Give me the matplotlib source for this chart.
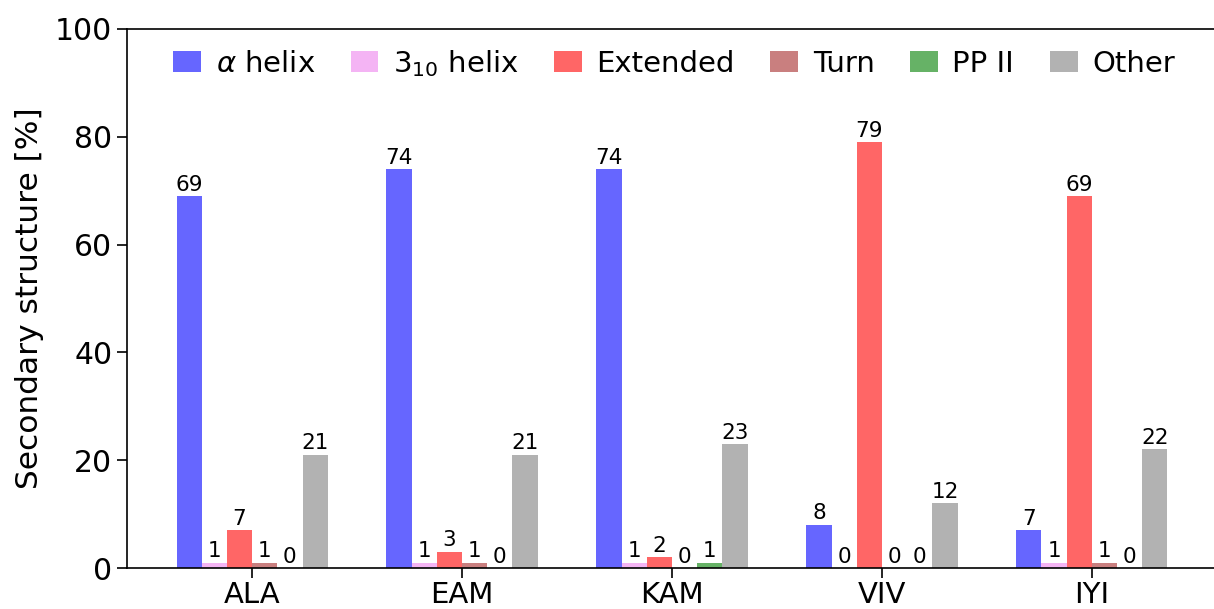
import numpy as np
import matplotlib
matplotlib.use("Agg")
import matplotlib.pyplot as plt

# peptides and secondary structure content (%)
peptides = ["ALA", "EAM", "KAM", "VIV", "IYI"]
labels = [r"$\alpha$ helix", r"3$_{10}$ helix", "Extended", "Turn", "PP II", "Other"]
colors = ["blue", "violet", "red", "brown", "green", "gray"]

alpha_helix = [69, 74, 74, 8, 7]
helix_310 = [1, 1, 1, 0, 1]
extended = [7, 3, 2, 79, 69]
turn = [1, 1, 0, 0, 1]
pp2 = [0, 0, 1, 0, 0]
other = [21, 21, 23, 12, 22]

series = [alpha_helix, helix_310, extended, turn, pp2, other]


def make_plot():
    fig = plt.figure(figsize=(12.14, 6.09), dpi=100)
    ax = fig.add_axes([127 / 1214, 41 / 609, 1090 / 1214, 539 / 609])

    x = np.arange(len(peptides))
    width = 0.12
    for i, (vals, lab, col) in enumerate(zip(series, labels, colors)):
        offset = (i - (len(series) - 1) / 2) * width
        bars = ax.bar(x + offset, vals, width, color=col, alpha=0.6, label=lab)
        ax.bar_label(bars, fontsize=15.5, padding=1)

    ax.set_ylim(0, 100)
    ax.set_xticks(x)
    ax.set_xticklabels(peptides, fontsize=21)
    ax.tick_params(axis="x", pad=2.5)
    ax.tick_params(axis="y", labelsize=21.5)
    ax.tick_params(length=7, width=1.2)
    ax.set_ylabel("Secondary structure [%]", fontsize=22.5, labelpad=8)
    for s in ax.spines.values():
        s.set_linewidth(1.2)

    ax.legend(loc="upper center", ncol=6, frameon=False, fontsize=21,
              handlelength=0.95, handleheight=0.7, columnspacing=1.22,
              handletextpad=0.5, bbox_to_anchor=(0.502, 1.014))

    fig.savefig("out.png", dpi=100)


if __name__ == "__main__":
    make_plot()
